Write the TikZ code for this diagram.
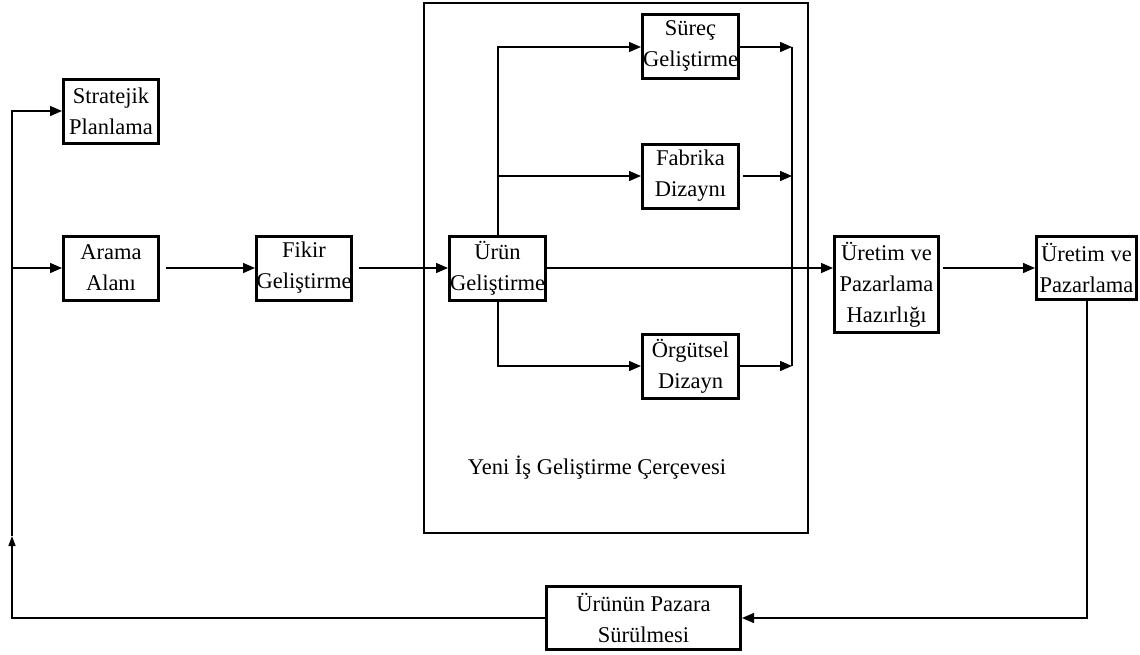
\documentclass[tikz,border=0pt]{standalone}
\usepackage{fontspec}
\setmainfont{Liberation Serif}
\usetikzlibrary{arrows.meta}
\begin{document}
\begin{tikzpicture}[x=1pt,y=-1pt,
  font=\fontsize{22.5}{31}\selectfont,
  stagebox/.style={draw, line width=3pt, align=center, inner sep=0pt,
    minimum width=95pt, minimum height=64pt},
  frame/.style={draw, line width=1.4pt},
  flow/.style={line width=1.4pt, -{Triangle[length=12pt,width=10pt]}},
  line/.style={line width=1.4pt},
  upflow/.style={line width=1.4pt, -{Triangle[length=10pt,width=7pt]}}]
\useasboundingbox (0,0) rectangle (1140,654);

% framework enclosing the parallel development stages
\draw[frame] (424,3) rectangle (808,533);
\node (frametitle) at (597,468) {Yeni İş Geliştirme Çerçevesi};

% stages
\node[stagebox] (strat) at (111,111) {Stratejik\\Planlama};
\node[stagebox] (arama) at (111,268) {Arama\\Alanı};
\node[stagebox] (fikir) at (304,268) {Fikir\\Geliştirme};
\node[stagebox, minimum width=96pt] (urun) at (497.5,268) {Ürün\\Geliştirme};
\node[stagebox, minimum width=96pt] (surec) at (690.5,46) {Süreç\\Geliştirme};
\node[stagebox, minimum width=96pt] (fabrika) at (690.5,176) {Fabrika\\Dizaynı};
\node[stagebox, minimum width=96pt] (orgut) at (690.5,366) {Örgütsel\\Dizayn};
\node[stagebox, minimum width=104pt, minimum height=96pt] (hazir) at (886.5,284.5) {Üretim ve\\Pazarlama\\Hazırlığı};
\node[stagebox, minimum width=100pt, minimum height=63pt] (uretim) at (1086.5,268) {Üretim ve\\Pazarlama};
\node[stagebox, minimum width=194pt, minimum height=63pt] (surulme) at (643.5,618) {Ürünün Pazara\\Sürülmesi};

% junction points
\coordinate (trunkB) at (12,618);
\coordinate (trunkM) at (12,536);
\coordinate (splitT) at (498,47);
\coordinate (splitF) at (498,176);
\coordinate (splitO) at (498,366);
\coordinate (mergeT) at (792,47);
\coordinate (mergeF) at (792,176);
\coordinate (mergeO) at (792,366);
\coordinate (retC) at (1087,618);

% feedback loop on the left
\draw[upflow] (surulme.west) -- (trunkB) -- (trunkM);
\draw[flow] (trunkM) -- (trunkB |- strat.west) -- (strat.west);
\draw[flow] (trunkB |- arama.west) -- (arama.west);

% main sequence
\draw[flow, shorten <=6pt] (arama.east) -- (fikir.west);
\draw[flow, shorten <=6pt] (fikir.east) -- (urun.west);
\draw[flow] (urun.east) -- (hazir.west |- urun.east);
\draw[flow, shorten <=3pt] (hazir.east |- uretim.west) -- (uretim.west);

% branches out of product development
\draw[flow] (urun.north -| splitT) -- (splitT) -- (surec.west |- splitT);
\draw[flow] (splitF) -- (fabrika.west);
\draw[flow] (urun.south -| splitO) -- (splitO) -- (orgut.west |- splitO);

% branches merging again
\draw[flow] (surec.east |- mergeT) -- (mergeT);
\draw[flow, shorten <=3pt] (fabrika.east) -- (mergeF);
\draw[flow] (orgut.east |- mergeO) -- (mergeO);
\draw[line] (mergeT) -- (mergeO);

% return path to market launch
\draw[flow] (uretim.south -| retC) -- (retC) -- (surulme.east);
\end{tikzpicture}
\end{document}
